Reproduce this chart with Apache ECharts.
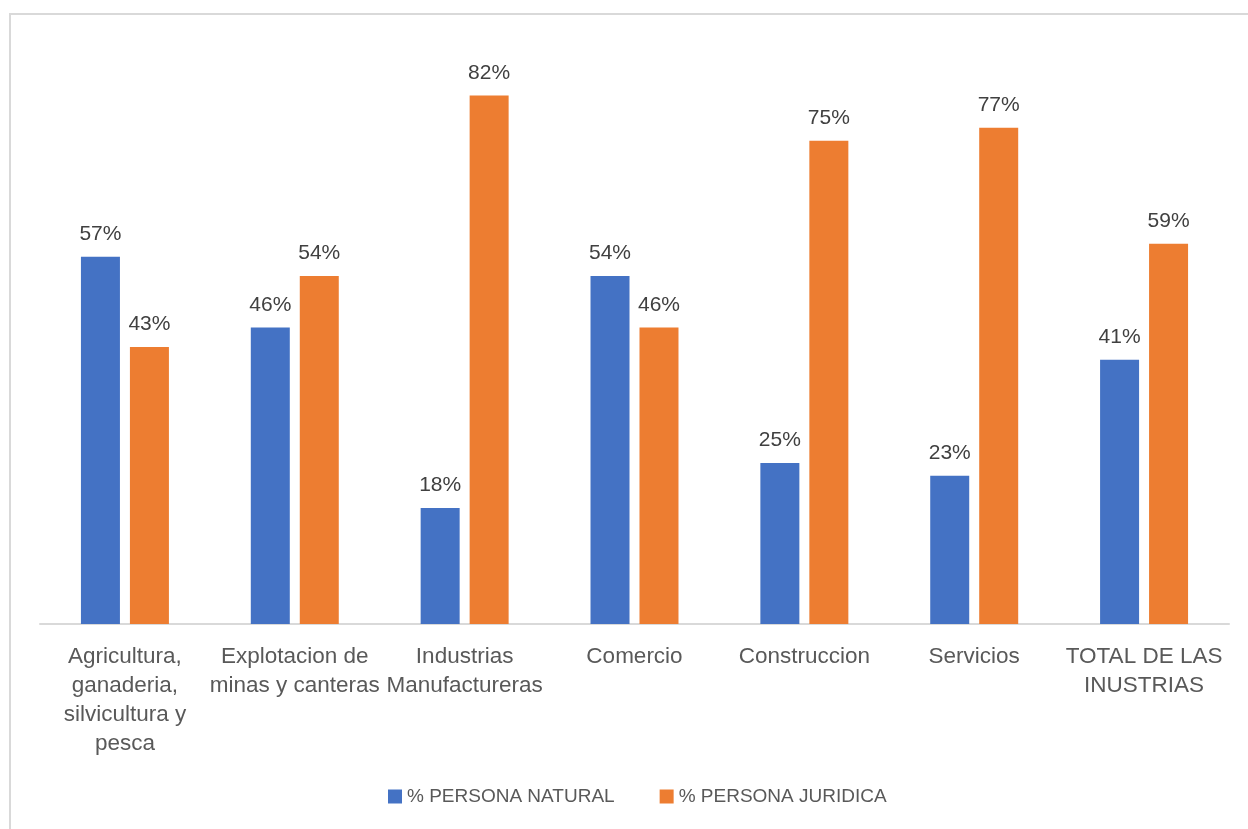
<!DOCTYPE html>
<html>
<head>
<meta charset="utf-8">
<title>Persona natural vs. persona jurídica por sector</title>
<script src="https://cdn.jsdelivr.net/npm/echarts@6/dist/echarts.min.js"></script>
<style>
  html, body { margin: 0; padding: 0; background: #ffffff; }
  #chart { width: 1248px; height: 829px; }
</style>
</head>
<body>
<div id="chart"></div>
<script>
// Sectors (line breaks are the wrapped axis labels)
const categories = [
  'Agricultura,\nganaderia,\nsilvicultura y\npesca',
  'Explotacion de\nminas y canteras',
  'Industrias\nManufactureras',
  'Comercio',
  'Construccion',
  'Servicios',
  'TOTAL DE LAS\nINUSTRIAS'
];

const seriesNames = ['% PERSONA NATURAL', '% PERSONA JURIDICA'];

// Share of companies, in percent
const personaNatural  = [57, 46, 18, 54, 25, 23, 41];
const personaJuridica = [43, 54, 82, 46, 75, 77, 59];

const FONT = '"Liberation Sans", Arial, Helvetica, sans-serif';

const chart = echarts.init(document.getElementById('chart'), null, { renderer: 'canvas' });

const valueLabel = {
  show: true,
  position: 'top',
  distance: 12,
  formatter: p => p.value + '%',
  color: '#404040',
  fontSize: 21,
  fontFamily: FONT
};

chart.setOption({
  backgroundColor: '#ffffff',
  animation: false,
  graphic: [{
    type: 'rect',
    shape: { x: 10, y: 14, width: 1400, height: 1000 },
    style: { fill: 'none', stroke: '#d9d9d9', lineWidth: 2 },
    silent: true,
    z: -1
  }],
  grid: { left: 40, right: 19, top: 44, bottom: 205, containLabel: false },
  legend: {
    data: seriesNames,
    top: 787,
    left: 388,
    padding: 0,
    itemWidth: 14,
    itemHeight: 14,
    itemGap: 45,
    icon: 'rect',
    textStyle: { color: '#595959', fontSize: 19, fontFamily: FONT, padding: [0, 0, 0, 0] }
  },
  xAxis: {
    type: 'category',
    data: categories,
    axisLine: { show: true, lineStyle: { color: '#d9d9d9', width: 2 } },
    axisTick: { show: false },
    axisLabel: {
      color: '#595959',
      fontSize: 22.5,
      fontFamily: FONT,
      lineHeight: 29,
      margin: 18,
      interval: 0,
      align: 'center'
    }
  },
  yAxis: {
    type: 'value',
    min: 0,
    max: 90,
    show: false,
    splitLine: { show: false }
  },
  series: [
    {
      name: seriesNames[0],
      type: 'bar',
      data: personaNatural,
      barWidth: 39,
      barGap: '25.6%',
      itemStyle: { color: '#4472c4' },
      label: valueLabel
    },
    {
      name: seriesNames[1],
      type: 'bar',
      data: personaJuridica,
      barWidth: 39,
      barGap: '25.6%',
      itemStyle: { color: '#ed7d31' },
      label: valueLabel
    }
  ]
});
</script>
</body>
</html>
